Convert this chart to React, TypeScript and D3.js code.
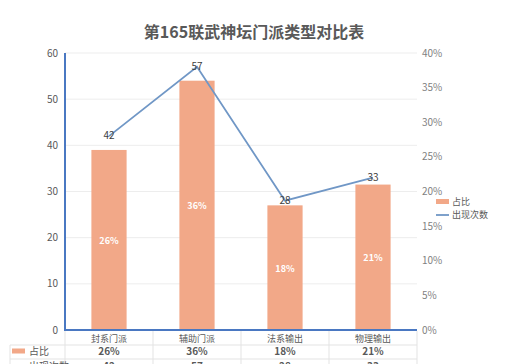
import React from "react";
import * as d3 from "d3";

const categories = ["封系门派", "辅助门派", "法系输出", "物理输出"];
const shareValues = [0.26, 0.36, 0.18, 0.21];
const countValues = [42, 57, 28, 33];
const leftTicks = [0, 10, 20, 30, 40, 50, 60];
const rightTicks = [0, 0.05, 0.1, 0.15, 0.2, 0.25, 0.3, 0.35, 0.4];
const seriesNames = ["占比", "出现次数"];
const title = "第165联武神坛门派类型对比表";

const W = 506;
const H = 364;
const left = 65;
const right = 417;
const top = 53;
const bottom = 330;

const barColor = "#F2A888";
const lineColor = "#7097C6";
const axisColor = "#4A78C2";
const textColor = "#595959";
const font = "'Noto Sans CJK SC', 'Noto Sans', sans-serif";

export default function App() {
  const x = d3.scaleBand<string>().domain(categories).range([left, right]).paddingInner(0).paddingOuter(0);
  const yL = d3.scaleLinear().domain([0, 60]).range([bottom, top]);
  const yR = d3.scaleLinear().domain([0, 0.4]).range([bottom, top]);
  const bw = x.bandwidth() * 0.4;
  const cx = (c: string) => (x(c) as number) + x.bandwidth() / 2;
  const line = d3
    .line<number>()
    .x((_, i) => cx(categories[i]))
    .y((d) => yL(d));
  const pct = d3.format(".0%");
  const rightFmt = d3.format(".0%");

  const row1 = 338;
  const row2 = 351.5;
  const row3 = 366;

  return (
    <svg
      width={W}
      height={H}
      style={{ position: "absolute", left: 0, top: 0, background: "#fff" }}
      fontFamily={font}
    >
      <rect x={0} y={0} width={W} height={H} fill="#fff" />
      <text x={W / 2 + 1} y={38} textAnchor="middle" fontSize={16} fontWeight="bold" fill={textColor}>
        {title}
      </text>
      {leftTicks.map((t) => (
        <line key={"g" + t} x1={left} x2={right} y1={yL(t)} y2={yL(t)} stroke="#EDEDED" strokeWidth={1} />
      ))}
      {leftTicks.map((t) => (
        <text key={"l" + t} x={58} y={yL(t) + 3.5} textAnchor="end" fontSize={10} fill={textColor}>
          {t}
        </text>
      ))}
      {rightTicks.map((t) => (
        <text key={"r" + t} x={422} y={yR(t) + 3.5} textAnchor="start" fontSize={10} fill="#7f7f7f">
          {rightFmt(t)}
        </text>
      ))}
      {categories.map((c, i) => (
        <rect
          key={"b" + c}
          x={cx(c) - bw / 2}
          y={yR(shareValues[i])}
          width={bw}
          height={bottom - yR(shareValues[i])}
          fill={barColor}
        />
      ))}
      {categories.map((c, i) => (
        <text
          key={"bl" + c}
          x={cx(c)}
          y={(yR(shareValues[i]) + bottom) / 2 + 4}
          textAnchor="middle"
          fontSize={9}
          fontWeight="bold"
          fill="#fff"
        >
          {pct(shareValues[i])}
        </text>
      ))}
      <line x1={left} x2={left} y1={top} y2={bottom + 1} stroke={axisColor} strokeWidth={2} />
      <line x1={left} x2={right} y1={bottom} y2={bottom} stroke={axisColor} strokeWidth={2} />
      <path d={line(countValues) || ""} fill="none" stroke={lineColor} strokeWidth={1.8} />
      {categories.map((c, i) => (
        <text
          key={"ll" + c}
          x={cx(c)}
          y={yL(countValues[i]) + 3}
          textAnchor="middle"
          fontSize={10}
          fill="#404040"
        >
          {countValues[i]}
        </text>
      ))}
      <rect x={436} y={199} width={13} height={5} fill={barColor} />
      <text x={452} y={205} fontSize={9} fill={textColor}>
        {seriesNames[0]}
      </text>
      <line x1={436} x2={449} y1={215} y2={215} stroke={lineColor} strokeWidth={1.8} />
      <text x={452} y={218} fontSize={9} fill={textColor}>
        {seriesNames[1]}
      </text>
      {[...categories.map((c) => x(c) as number), right].map((vx, i) => (
        <line key={"tv" + i} x1={vx} x2={vx} y1={bottom + 1} y2={H} stroke="#E3E3E3" strokeWidth={1} />
      ))}
      <line x1={10} x2={10} y1={345} y2={H} stroke="#E3E3E3" strokeWidth={1} />
      <line x1={10} x2={right} y1={345} y2={345} stroke="#E3E3E3" strokeWidth={1} />
      <line x1={10} x2={right} y1={359} y2={359} stroke="#E3E3E3" strokeWidth={1} />
      {categories.map((c) => (
        <text key={"tc" + c} x={cx(c)} y={row1 + 3.5} textAnchor="middle" fontSize={9} fill={textColor}>
          {c}
        </text>
      ))}
      <rect x={12} y={row2 - 3} width={13} height={5} fill={barColor} />
      <text x={29} y={row2 + 3.5} fontSize={10} fill={textColor}>
        {seriesNames[0]}
      </text>
      {categories.map((c, i) => (
        <text key={"t1" + c} x={cx(c)} y={row2 + 3.5} textAnchor="middle" fontSize={10} fontWeight="bold" fill={textColor}>
          {pct(shareValues[i])}
        </text>
      ))}
      <line x1={12} x2={25} y1={row3 - 1} y2={row3 - 1} stroke={lineColor} strokeWidth={1.8} />
      <text x={29} y={row3 + 3.5} fontSize={10} fill={textColor}>
        {seriesNames[1]}
      </text>
      {categories.map((c, i) => (
        <text key={"t2" + c} x={cx(c)} y={row3 + 3.5} textAnchor="middle" fontSize={10} fontWeight="bold" fill={textColor}>
          {countValues[i]}
        </text>
      ))}
    </svg>
  );
}
